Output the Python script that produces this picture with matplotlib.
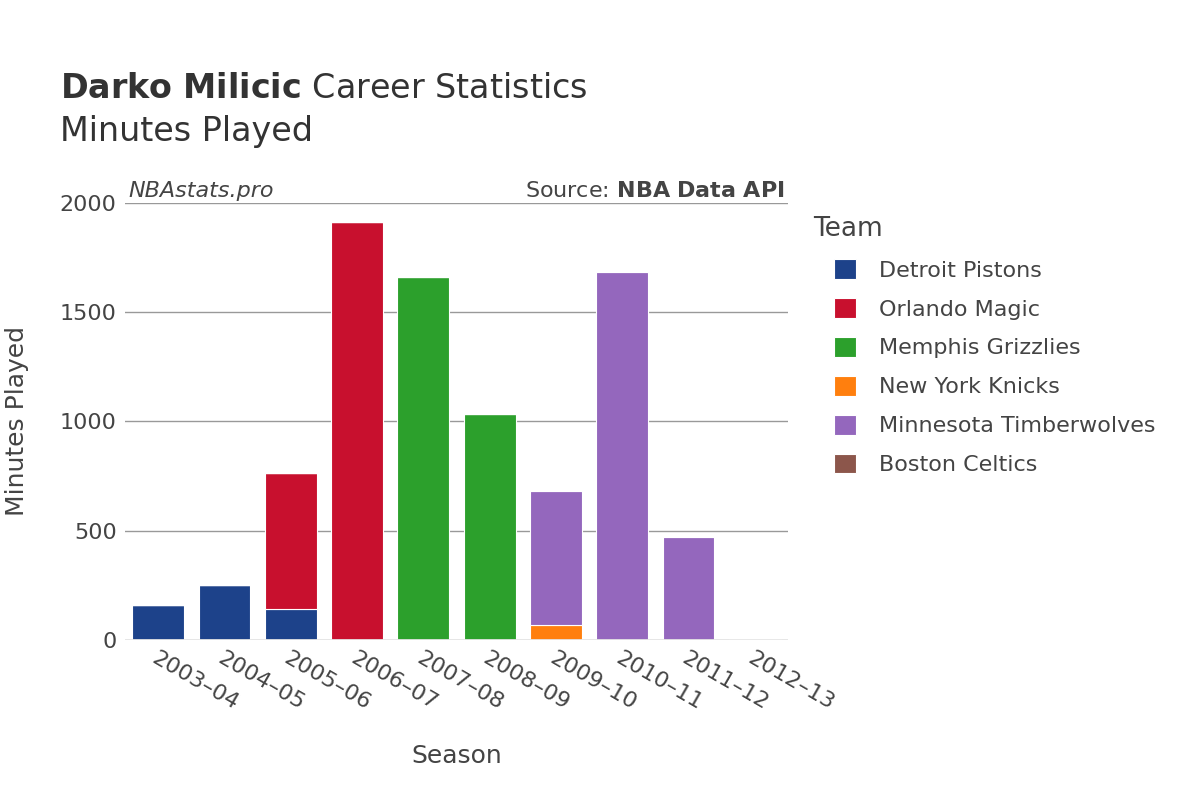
import matplotlib
matplotlib.use('Agg')
import matplotlib.pyplot as plt
import numpy as np

seasons = ["2003–04", "2004–05", "2005–06", "2006–07", "2007–08",
           "2008–09", "2009–10", "2010–11", "2011–12", "2012–13"]
teams = ["Detroit Pistons", "Orlando Magic", "Memphis Grizzlies",
         "New York Knicks", "Minnesota Timberwolves", "Boston Celtics"]
colors = ["#1d428a", "#c8102e", "#2ca02c", "#ff7f0e", "#9467bd", "#8c564b"]

detroit = [159, 252, 142, 0, 0, 0, 0, 0, 0, 0]
orlando = [0, 0, 622, 1913, 0, 0, 0, 0, 0, 0]
memphis = [0, 0, 0, 0, 1661, 1034, 0, 0, 0, 0]
knicks = [0, 0, 0, 0, 0, 0, 69, 0, 0, 0]
minnesota = [0, 0, 0, 0, 0, 0, 613, 1684, 471, 0]
boston = [0, 0, 0, 0, 0, 0, 0, 0, 0, 5]
series = [detroit, orlando, memphis, knicks, minnesota, boston]

fig = plt.figure(figsize=(12, 8), dpi=100)
ax = fig.add_axes([125/1200, 160/800, 663/1200, 437/800])
x = np.arange(len(seasons))
bottom = np.zeros(len(seasons))
for name, vals, c in zip(teams, series, colors):
    v = np.array(vals, dtype=float)
    ax.bar(x, v, 0.78, bottom=bottom, color=c, label=name, edgecolor='white', linewidth=0.8)
    bottom += v

ax.set_xlim(-0.5, len(seasons) - 0.5)
ax.set_ylim(0, 2000)
ax.set_yticks([0, 500, 1000, 1500, 2000])
ax.tick_params(axis='y', labelsize=16, colors='#444444', length=0, pad=6)
ax.tick_params(axis='x', labelsize=16, colors='#444444', length=0, pad=6)
ax.set_xticks(x)
ax.set_xticklabels(seasons, rotation=-30, ha='left', rotation_mode='anchor')
ax.grid(axis='y', color='#999999', linewidth=1)
ax.set_axisbelow(True)
for s in ax.spines.values():
    s.set_visible(False)
ax.axhline(0, color='#e6e6e6', linewidth=2)

ax.set_xlabel("Season", fontsize=18, color='#444444', labelpad=22)
ax.set_ylabel("Minutes Played", fontsize=18, color='#444444', labelpad=22)

fig.text(60/1200, 1 - 88/800, r"$\bf{Darko\ Milicic}$ Career Statistics", fontsize=24,
         color='#333333', va='center')
fig.text(60/1200, 1 - 132/800, "Minutes Played", fontsize=24, color='#333333', va='center')
ax.text(0.005, 1.005, "NBAstats.pro", transform=ax.transAxes, fontsize=16,
        style='italic', color='#444444', va='bottom')
ax.text(0.995, 1.005, r"Source: $\bf{NBA\ Data\ API}$", transform=ax.transAxes,
        fontsize=16, color='#444444', va='bottom', ha='right')

leg = fig.legend(loc='upper left', bbox_to_anchor=(795/1200, 1 - 198/800), frameon=False,
                 fontsize=16, title="Team", title_fontsize=19, labelspacing=0.78,
                 handlelength=1.0, handleheight=1.0, handletextpad=2.0, borderpad=0.3)
leg._legend_box.align = 'left'
for t in leg.get_texts():
    t.set_color('#444444')
leg.get_title().set_color('#444444')
for h in leg.legend_handles:
    h.set_x(h.get_x() + 15)

fig.savefig("out.png", dpi=100)
